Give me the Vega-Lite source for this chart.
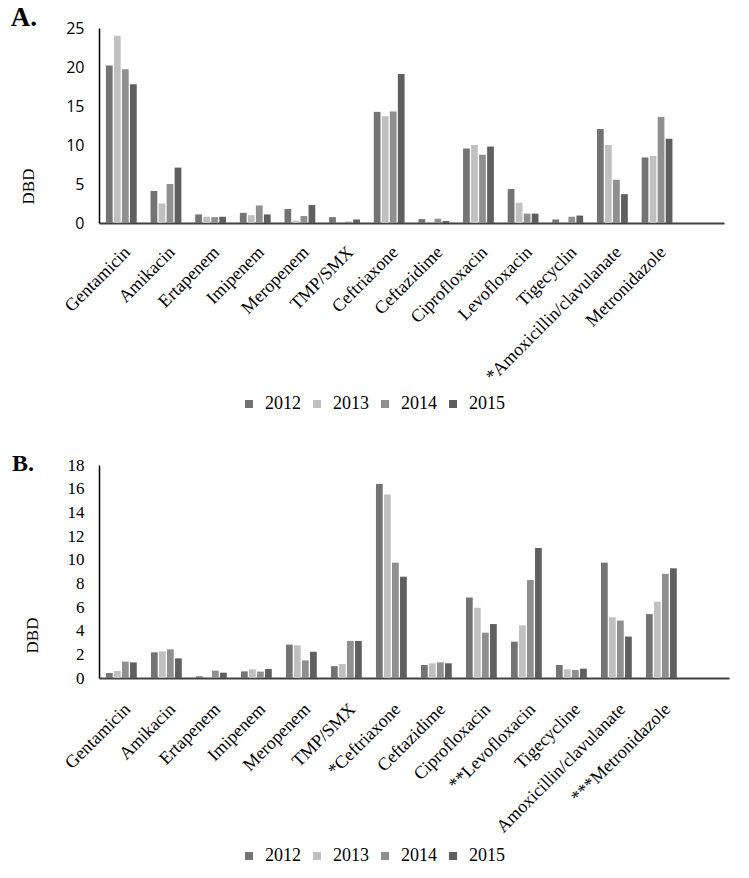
{
  "$schema": "https://vega.github.io/schema/vega-lite/v6.json",
  "background": "white",
  "padding": {"left": 10, "top": 4, "right": 5, "bottom": 5},
  "datasets": {
    "a": [
      {"drug": "Gentamicin", "year": "2012", "dbd": 20.2}, {"drug": "Gentamicin", "year": "2013", "dbd": 24.0}, {"drug": "Gentamicin", "year": "2014", "dbd": 19.7}, {"drug": "Gentamicin", "year": "2015", "dbd": 17.8},
      {"drug": "Amikacin", "year": "2012", "dbd": 4.1}, {"drug": "Amikacin", "year": "2013", "dbd": 2.5}, {"drug": "Amikacin", "year": "2014", "dbd": 5.0}, {"drug": "Amikacin", "year": "2015", "dbd": 7.1},
      {"drug": "Ertapenem", "year": "2012", "dbd": 1.1}, {"drug": "Ertapenem", "year": "2013", "dbd": 0.8}, {"drug": "Ertapenem", "year": "2014", "dbd": 0.75}, {"drug": "Ertapenem", "year": "2015", "dbd": 0.8},
      {"drug": "Imipenem", "year": "2012", "dbd": 1.3}, {"drug": "Imipenem", "year": "2013", "dbd": 1.0}, {"drug": "Imipenem", "year": "2014", "dbd": 2.25}, {"drug": "Imipenem", "year": "2015", "dbd": 1.1},
      {"drug": "Meropenem", "year": "2012", "dbd": 1.8}, {"drug": "Meropenem", "year": "2013", "dbd": 0.3}, {"drug": "Meropenem", "year": "2014", "dbd": 0.9}, {"drug": "Meropenem", "year": "2015", "dbd": 2.3},
      {"drug": "TMP/SMX", "year": "2012", "dbd": 0.75}, {"drug": "TMP/SMX", "year": "2013", "dbd": 0}, {"drug": "TMP/SMX", "year": "2014", "dbd": 0.17}, {"drug": "TMP/SMX", "year": "2015", "dbd": 0.45},
      {"drug": "Ceftriaxone", "year": "2012", "dbd": 14.25}, {"drug": "Ceftriaxone", "year": "2013", "dbd": 13.7}, {"drug": "Ceftriaxone", "year": "2014", "dbd": 14.3}, {"drug": "Ceftriaxone", "year": "2015", "dbd": 19.1},
      {"drug": "Ceftazidime", "year": "2012", "dbd": 0.5}, {"drug": "Ceftazidime", "year": "2013", "dbd": 0}, {"drug": "Ceftazidime", "year": "2014", "dbd": 0.55}, {"drug": "Ceftazidime", "year": "2015", "dbd": 0.25},
      {"drug": "Ciprofloxacin", "year": "2012", "dbd": 9.55}, {"drug": "Ciprofloxacin", "year": "2013", "dbd": 10.0}, {"drug": "Ciprofloxacin", "year": "2014", "dbd": 8.75}, {"drug": "Ciprofloxacin", "year": "2015", "dbd": 9.8},
      {"drug": "Levofloxacin", "year": "2012", "dbd": 4.35}, {"drug": "Levofloxacin", "year": "2013", "dbd": 2.6}, {"drug": "Levofloxacin", "year": "2014", "dbd": 1.2}, {"drug": "Levofloxacin", "year": "2015", "dbd": 1.2},
      {"drug": "Tigecyclin", "year": "2012", "dbd": 0.45}, {"drug": "Tigecyclin", "year": "2013", "dbd": 0}, {"drug": "Tigecyclin", "year": "2014", "dbd": 0.8}, {"drug": "Tigecyclin", "year": "2015", "dbd": 0.95},
      {"drug": "*Amoxicillin/clavulanate", "year": "2012", "dbd": 12.05}, {"drug": "*Amoxicillin/clavulanate", "year": "2013", "dbd": 10.0}, {"drug": "*Amoxicillin/clavulanate", "year": "2014", "dbd": 5.55}, {"drug": "*Amoxicillin/clavulanate", "year": "2015", "dbd": 3.7},
      {"drug": "Metronidazole", "year": "2012", "dbd": 8.4}, {"drug": "Metronidazole", "year": "2013", "dbd": 8.6}, {"drug": "Metronidazole", "year": "2014", "dbd": 13.6}, {"drug": "Metronidazole", "year": "2015", "dbd": 10.8}
    ],
    "b": [
      {"drug": "Gentamicin", "year": "2012", "dbd": 0.42}, {"drug": "Gentamicin", "year": "2013", "dbd": 0.6}, {"drug": "Gentamicin", "year": "2014", "dbd": 1.38}, {"drug": "Gentamicin", "year": "2015", "dbd": 1.32},
      {"drug": "Amikacin", "year": "2012", "dbd": 2.17}, {"drug": "Amikacin", "year": "2013", "dbd": 2.25}, {"drug": "Amikacin", "year": "2014", "dbd": 2.42}, {"drug": "Amikacin", "year": "2015", "dbd": 1.66},
      {"drug": "Ertapenem", "year": "2012", "dbd": 0.14}, {"drug": "Ertapenem", "year": "2013", "dbd": 0}, {"drug": "Ertapenem", "year": "2014", "dbd": 0.62}, {"drug": "Ertapenem", "year": "2015", "dbd": 0.45},
      {"drug": "Imipenem", "year": "2012", "dbd": 0.56}, {"drug": "Imipenem", "year": "2013", "dbd": 0.73}, {"drug": "Imipenem", "year": "2014", "dbd": 0.54}, {"drug": "Imipenem", "year": "2015", "dbd": 0.76},
      {"drug": "Meropenem", "year": "2012", "dbd": 2.82}, {"drug": "Meropenem", "year": "2013", "dbd": 2.76}, {"drug": "Meropenem", "year": "2014", "dbd": 1.49}, {"drug": "Meropenem", "year": "2015", "dbd": 2.22},
      {"drug": "TMP/SMX", "year": "2012", "dbd": 1.0}, {"drug": "TMP/SMX", "year": "2013", "dbd": 1.18}, {"drug": "TMP/SMX", "year": "2014", "dbd": 3.13}, {"drug": "TMP/SMX", "year": "2015", "dbd": 3.13},
      {"drug": "*Ceftriaxone", "year": "2012", "dbd": 16.4}, {"drug": "*Ceftriaxone", "year": "2013", "dbd": 15.5}, {"drug": "*Ceftriaxone", "year": "2014", "dbd": 9.75}, {"drug": "*Ceftriaxone", "year": "2015", "dbd": 8.56},
      {"drug": "Ceftazidime", "year": "2012", "dbd": 1.1}, {"drug": "Ceftazidime", "year": "2013", "dbd": 1.24}, {"drug": "Ceftazidime", "year": "2014", "dbd": 1.32}, {"drug": "Ceftazidime", "year": "2015", "dbd": 1.24},
      {"drug": "Ciprofloxacin", "year": "2012", "dbd": 6.8}, {"drug": "Ciprofloxacin", "year": "2013", "dbd": 5.94}, {"drug": "Ciprofloxacin", "year": "2014", "dbd": 3.83}, {"drug": "Ciprofloxacin", "year": "2015", "dbd": 4.56},
      {"drug": "**Levofloxacin", "year": "2012", "dbd": 3.07}, {"drug": "**Levofloxacin", "year": "2013", "dbd": 4.45}, {"drug": "**Levofloxacin", "year": "2014", "dbd": 8.28}, {"drug": "**Levofloxacin", "year": "2015", "dbd": 10.99},
      {"drug": "Tigecycline", "year": "2012", "dbd": 1.1}, {"drug": "Tigecycline", "year": "2013", "dbd": 0.73}, {"drug": "Tigecycline", "year": "2014", "dbd": 0.68}, {"drug": "Tigecycline", "year": "2015", "dbd": 0.79},
      {"drug": "Amoxicillin/clavulanate", "year": "2012", "dbd": 9.75}, {"drug": "Amoxicillin/clavulanate", "year": "2013", "dbd": 5.13}, {"drug": "Amoxicillin/clavulanate", "year": "2014", "dbd": 4.85}, {"drug": "Amoxicillin/clavulanate", "year": "2015", "dbd": 3.5},
      {"drug": "***Metronidazole", "year": "2012", "dbd": 5.4}, {"drug": "***Metronidazole", "year": "2013", "dbd": 6.45}, {"drug": "***Metronidazole", "year": "2014", "dbd": 8.8}, {"drug": "***Metronidazole", "year": "2015", "dbd": 9.27}
    ]
  },
  "config": {
    "view": {"stroke": null},
    "axis": {"ticks": false, "grid": false, "labelColor": "black", "titleColor": "black", "titleFontWeight": "normal", "titleFont": "Times New Roman", "titleFontSize": 17, "labelLimit": 0},
    "legend": {"orient": "none", "direction": "horizontal", "title": null, "symbolType": "square", "symbolSize": 64, "symbolStrokeWidth": 0, "labelFont": "Times New Roman", "labelFontSize": 18, "labelColor": "black", "labelOffset": 7, "columnPadding": 7},
    "title": {"font": "Times New Roman", "fontWeight": "bold", "color": "black", "anchor": "start", "frame": "bounds"}
  },
  "concat": [
    {
      "data": {"name": "a"},
      "width": 625,
      "height": 195,
      "title": {"text": "A.", "fontSize": 27, "dx": -9, "offset": -12},
      "mark": {"type": "bar"},
      "encoding": {
        "x": {"field": "drug", "type": "nominal", "title": null,
          "scale": {"domain": ["Gentamicin", "Amikacin", "Ertapenem", "Imipenem", "Meropenem", "TMP/SMX", "Ceftriaxone", "Ceftazidime", "Ciprofloxacin", "Levofloxacin", "Tigecyclin", "*Amoxicillin/clavulanate", "Metronidazole", " "], "paddingInner": 0.31, "paddingOuter": 0.155},
          "axis": {"labelAngle": -45, "labelAlign": "right", "labelBaseline": "top", "labelFont": "Times New Roman", "labelFontSize": 18, "labelPadding": 20, "domainColor": "#404040", "domainWidth": 2}},
        "xOffset": {"field": "year", "type": "nominal", "scale": {"paddingInner": 0.16, "paddingOuter": 0}},
        "y": {"field": "dbd", "type": "quantitative", "title": "DBD",
          "scale": {"domain": [0, 25], "nice": false},
          "axis": {"values": [0, 5, 10, 15, 20, 25], "labelFont": "Open Sans", "labelFontSize": 16, "labelPadding": 15, "titlePadding": 28, "titleY": 158, "domainColor": "black", "domainWidth": 1.5}},
        "color": {"field": "year", "type": "nominal",
          "scale": {"domain": ["2012", "2013", "2014", "2015"], "range": ["#737373", "#c0c0c0", "#8f8f8f", "#5f5f5f"]},
          "legend": {"legendX": 141, "legendY": 367}}
      }
    },
    {
      "data": {"name": "b"},
      "width": 630,
      "height": 213,
      "title": {"text": "B.", "fontSize": 24, "dx": -11, "offset": -20},
      "mark": {"type": "bar"},
      "encoding": {
        "x": {"field": "drug", "type": "nominal", "title": null,
          "scale": {"domain": ["Gentamicin", "Amikacin", "Ertapenem", "Imipenem", "Meropenem", "TMP/SMX", "*Ceftriaxone", "Ceftazidime", "Ciprofloxacin", "**Levofloxacin", "Tigecycline", "Amoxicillin/clavulanate", "***Metronidazole", " "], "paddingInner": 0.31, "paddingOuter": 0.155},
          "axis": {"labelAngle": -45, "labelAlign": "right", "labelBaseline": "top", "labelFont": "Times New Roman", "labelFontSize": 18, "labelPadding": 22, "domainColor": "#404040", "domainWidth": 2}},
        "xOffset": {"field": "year", "type": "nominal", "scale": {"paddingInner": 0.16, "paddingOuter": 0}},
        "y": {"field": "dbd", "type": "quantitative", "title": "DBD",
          "scale": {"domain": [0, 18], "nice": false},
          "axis": {"values": [0, 2, 4, 6, 8, 10, 12, 14, 16, 18], "labelFont": "Times New Roman", "labelFontSize": 17, "labelPadding": 15, "titlePadding": 26, "titleY": 170, "domainColor": "black", "domainWidth": 1.5}},
        "color": {"field": "year", "type": "nominal",
          "scale": {"domain": ["2012", "2013", "2014", "2015"], "range": ["#737373", "#c0c0c0", "#8f8f8f", "#5f5f5f"]},
          "legend": {"legendX": 141, "legendY": 382}}
      }
    }
  ],
  "columns": 1,
  "align": "none",
  "spacing": 39,
  "resolve": {"scale": {"x": "independent", "y": "independent"}, "legend": {"color": "independent"}}
}
